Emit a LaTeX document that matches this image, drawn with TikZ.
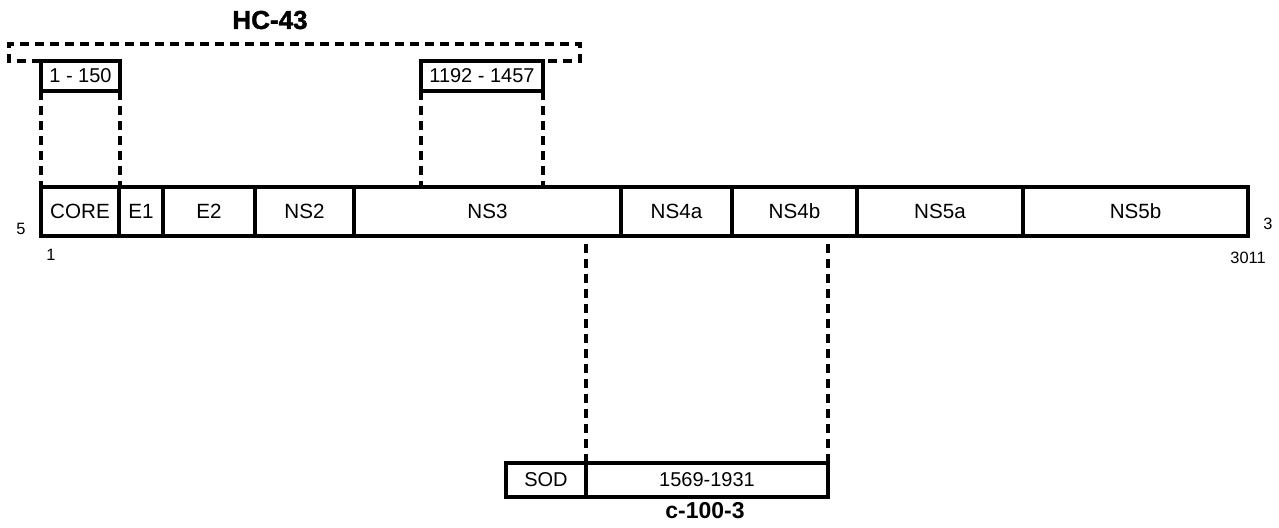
\documentclass[tikz,border=0pt]{standalone}
\usepackage{fontspec}
\setmainfont{Liberation Sans}
\newfontfamily\heavyfont{Liberation Sans}[BoldFeatures={FakeBold=1.5}]
\usetikzlibrary{positioning}

\begin{document}
\begin{tikzpicture}[x=0.5pt,y=-0.5pt]
\useasboundingbox (0,0) rectangle (1279,527);

% genome bar
\begin{scope}[every node/.style={draw,line width=1.6pt,inner sep=0pt,outer sep=0pt,
              minimum height=24.5pt,font=\fontsize{10.3}{12}\selectfont}]
    \node[minimum width=39pt]   (core)    at (80,211.5)    {CORE};
    \node[minimum width=22pt]   (eone)    at (141,211.5)   {E1};
    \node[minimum width=46pt]   (etwo)    at (209,211.5)   {E2};
    \node[minimum width=49.5pt] (nstwo)   at (304.5,211.5) {NS2};
    \node[minimum width=133.5pt] (nsthree) at (487.5,211.5) {NS3};
    \node[minimum width=55.5pt] (nsfoura) at (676.5,211.5) {NS4a};
    \node[minimum width=62.5pt] (nsfourb) at (794.5,211.5) {NS4b};
    \node[minimum width=83pt]   (nsfivea) at (940,211.5)   {NS5a};
    \node[minimum width=112.5pt] (nsfiveb) at (1135.5,211.5) {NS5b};
\end{scope}

% clone boxes
\begin{scope}[every node/.style={draw,line width=1.6pt,inner sep=0pt,outer sep=0pt,
              font=\fontsize{10}{12}\selectfont}]
    \node[minimum width=39.5pt,minimum height=15pt] (rangeA) at (80.5,76) {1 - 150};
    \node[minimum width=61pt,minimum height=15pt]   (rangeB) at (482,76)  {1192 - 1457};
    \node[minimum width=40pt,minimum height=17pt]   (sod)    at (546,480) {SOD};
    \node[minimum width=121pt,minimum height=17pt]  (rangeC) at (707,480) {1569-1931};
\end{scope}

% end labels
\begin{scope}[every node/.style={font=\fontsize{8.2}{9}\selectfont}]
    \node (fivep)  at (21,229)   {5};
    \node (first)  at (51,255)   {1};
    \node (threep) at (1268,224) {3};
    \node (last)   at (1248,258) {3011};
\end{scope}
\node[font=\fontsize{13}{15}\selectfont\heavyfont\bfseries] (hc) at (270,20) {HC-43};
\node[font=\fontsize{11.5}{13}\selectfont\bfseries] (cclone) at (705,511) {c-100-3};

\coordinate (hcL) at (9,44);
\coordinate (hcR) at (580,44);

\begin{scope}[line width=1.6pt,dash pattern=on 4.5pt off 3pt]
    \draw (rangeA.north west) -| (hcL) -- (hcR) |- (rangeB.north east);
    \draw (rangeA.south west) -- (rangeA.south west |- core.north);
    \draw (rangeA.south east) -- (rangeA.south east |- core.north);
    \draw (rangeB.south west) -- (rangeB.south west |- nsthree.north);
    \draw (rangeB.south east) -- (rangeB.south east |- nsthree.north);
    \draw (rangeC.north west) -- (rangeC.north west |- nsthree.south);
    \draw (rangeC.north east) -- (rangeC.north east |- nsfourb.south);
\end{scope}
\end{tikzpicture}
\end{document}
